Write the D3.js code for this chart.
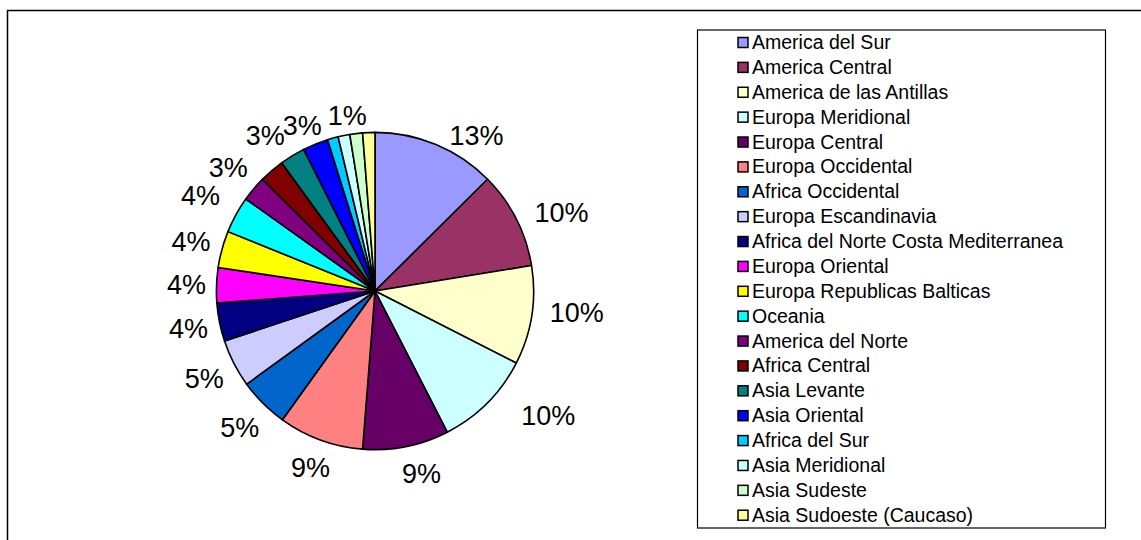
<!DOCTYPE html>
<html>
<head>
<meta charset="utf-8">
<script src="https://cdn.jsdelivr.net/npm/d3@7"></script>
<style>
  body { margin: 0; background: #fff; }
  svg { font-family: Arial, "Liberation Sans", sans-serif; }
</style>
</head>
<body>
<div id="chart"></div>
<script>
// regiones y porcentaje
var regions = ["America del Sur", "America Central", "America de las Antillas", "Europa Meridional",
  "Europa Central", "Europa Occidental", "Africa Occidental", "Europa Escandinavia",
  "Africa del Norte Costa Mediterranea", "Europa Oriental", "Europa Republicas Balticas", "Oceania",
  "America del Norte", "Africa Central", "Asia Levante", "Asia Oriental", "Africa del Sur",
  "Asia Meridional", "Asia Sudeste", "Asia Sudoeste (Caucaso)"];
var values = [12.6, 9.9, 10.1, 10.0, 8.8, 8.7, 5.1, 4.9, 3.9, 3.6, 3.75, 3.75,
  2.6, 2.55, 2.6, 2.6, 1.1, 1.2, 1.3, 1.25];
var colors = ["#9999FF", "#993366", "#FFFFCC", "#CCFFFF", "#660066", "#FF8080", "#0066CC", "#CCCCFF",
  "#000080", "#FF00FF", "#FFFF00", "#00FFFF", "#800080", "#800000", "#008080", "#0000FF",
  "#00CCFF", "#CCFFFF", "#CCFFCC", "#FFFF99"];
// etiquetas que no se ven en el original
var hiddenLabels = ["Asia Levante", "Africa del Sur", "Asia Sudeste", "Asia Sudoeste (Caucaso)"];

// ajustes a mano de algunas etiquetas: [grados, px hacia fuera]
var labelNudge = {
  "America del Sur": [10.4, -8],
  "America Central": [4, 4],
  "America de las Antillas": [-3, 6],
  "Europa Meridional": [-9.3, 15],
  "Europa Central": [-3, 2],
  "Oceania": [0, 7],
  "Africa Central": [5.5, 0],
  "Asia Oriental": [-1.6, -7],
  "Asia Meridional": [2.3, -7]
};

var W = 1141, H = 540;
var cx = 375, cy = 291, radius = 158.6;

var svg = d3.select("#chart").append("svg")
    .attr("width", W)
    .attr("height", H);

// marco del grafico
svg.append("path")
    .attr("d", "M7.5," + H + "V10.5H" + W)
    .attr("fill", "none")
    .attr("stroke", "#000")
    .attr("stroke-width", 1.5);

var total = d3.sum(values);
var data = regions.map(function(r, i) { return {name: r, value: values[i], color: colors[i]}; });

var pie = d3.pie()
    .sort(null)
    .value(function(d) { return d.value; });

var arc = d3.arc()
    .innerRadius(0)
    .outerRadius(radius);

var g = svg.append("g")
    .attr("transform", "translate(" + cx + "," + cy + ")");

var arcs = pie(data);

g.selectAll("path.slice")
    .data(arcs)
    .enter().append("path")
      .attr("class", "slice")
      .attr("d", arc)
      .attr("fill", function(d) { return d.data.color; })
      .attr("stroke", "#000")
      .attr("stroke-width", 1.6)
      .attr("stroke-linejoin", "round");

// etiquetas de porcentaje
var labelPad = 10, labelH = 26;
g.selectAll("text.pct")
    .data(arcs.filter(function(d) { return hiddenLabels.indexOf(d.data.name) < 0; }))
    .enter().append("text")
      .attr("class", "pct")
      .attr("font-size", "27px")
      .attr("fill", "#000")
      .attr("text-anchor", "middle")
      .attr("dy", "0.36em")
      .text(function(d) { return Math.round(d.data.value / total * 100) + "%"; })
      .each(function(d) {
        var nudge = labelNudge[d.data.name] || [0, 0];
        var a = (d.startAngle + d.endAngle) / 2 + nudge[0] * Math.PI / 180;
        var s = Math.sin(a), c = Math.cos(a);
        var w = this.getComputedTextLength();
        var dist = radius + labelPad + Math.abs(s) * w / 2 + Math.abs(c) * labelH / 2 + nudge[1];
        d3.select(this)
          .attr("x", s * dist)
          .attr("y", -c * dist);
      });

// leyenda
var legX = 697.5, legY = 30, legW = 408, legH = 498;
svg.append("rect")
    .attr("x", legX)
    .attr("y", legY)
    .attr("width", legW)
    .attr("height", legH)
    .attr("fill", "#fff")
    .attr("stroke", "#000")
    .attr("stroke-width", 1.2);

var step = 24.88;
var legend = svg.append("g")
  .selectAll("g")
  .data(data)
  .enter().append("g")
    .attr("transform", function(d, i) { return "translate(0," + (49 + i * step) + ")"; });

legend.append("rect")
    .attr("x", 738)
    .attr("y", -11.5)
    .attr("width", 10)
    .attr("height", 10)
    .attr("fill", function(d) { return d.color; })
    .attr("stroke", "#000")
    .attr("stroke-width", 1.5);

legend.append("text")
    .attr("x", 752)
    .attr("y", 0)
    .attr("font-size", "19.5px")
    .attr("fill", "#000")
    .text(function(d) { return d.name; });
</script>
</body>
</html>
